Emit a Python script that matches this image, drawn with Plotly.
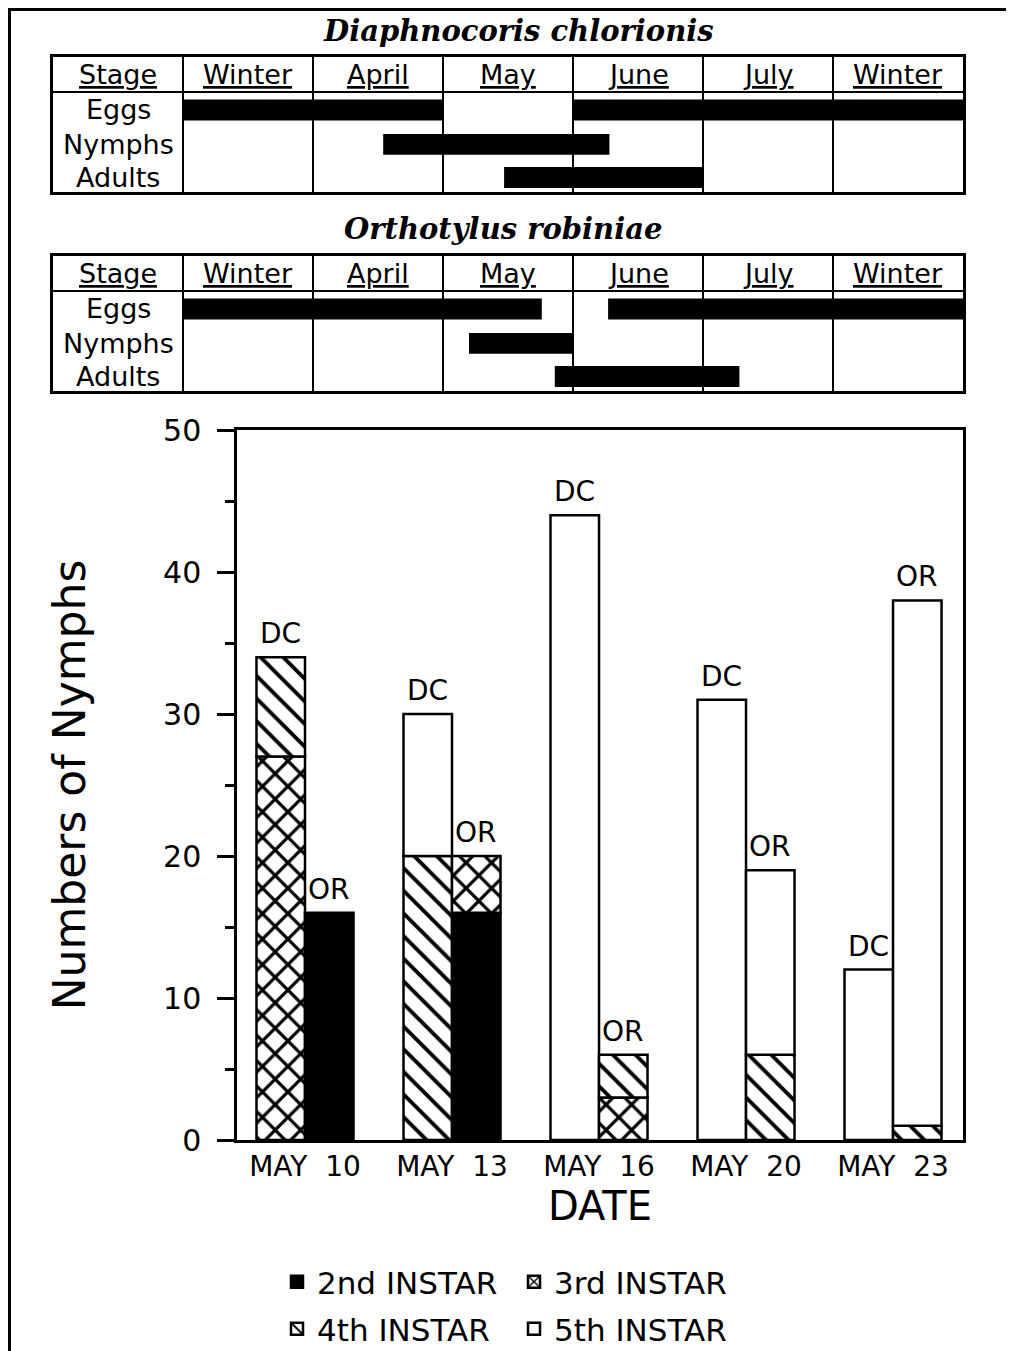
import numpy as np
import plotly.graph_objects as go

# ---------------- data ----------------
dates = ["MAY 10", "MAY 13", "MAY 16", "MAY 20", "MAY 23"]
instars = ["2nd INSTAR", "3rd INSTAR", "4th INSTAR", "5th INSTAR"]

# Diaphnocoris chlorionis (DC) nymph counts per instar
dc_2nd = [0, 0, 0, 0, 0]
dc_3rd = [27, 0, 0, 0, 0]
dc_4th = [7, 20, 0, 0, 0]
dc_5th = [0, 10, 44, 31, 12]

# Orthotylus robiniae (OR) nymph counts per instar
or_2nd = [16, 16, 0, 0, 0]
or_3rd = [0, 4, 3, 0, 0]
or_4th = [0, 0, 3, 6, 1]
or_5th = [0, 0, 0, 13, 37]

species_labels = ["DC", "OR"]

# phenology tables (periods in month-column units: 0=Winter start ... 6=Winter end)
table_columns = ["Winter", "April", "May", "June", "July", "Winter"]
stages = ["Eggs", "Nymphs", "Adults"]
dc_title = "Diaphnocoris chlorionis"
or_title = "Orthotylus robiniae"
dc_periods = {
    "Eggs": [(0.0, 2.0), (3.0, 6.0)],
    "Nymphs": [(1.54, 3.28)],
    "Adults": [(2.47, 4.0)],
}
or_periods = {
    "Eggs": [(0.0, 2.76), (3.27, 6.0)],
    "Nymphs": [(2.2, 3.0)],
    "Adults": [(2.86, 4.28)],
}

# ---------------- styling ----------------
W, H = 1014, 1351
OFF = 8  # page body margin: figure origin sits at (8, 8) on the page
FONT = "DejaVu Sans"
BLACK = "black"

def px_x(p):
    return (p - OFF) / W

def px_y(p):
    return 1 - (p - OFF) / H

patterns = [
    dict(color=BLACK, pattern=dict(shape="")),
    dict(color="white", pattern=dict(shape="x", fgcolor=BLACK, fgopacity=1, bgcolor="white", size=18, solidity=0.33)),
    dict(color="white", pattern=dict(shape="\\", fgcolor=BLACK, fgopacity=1, bgcolor="white", size=16, solidity=0.24)),
    dict(color="white", pattern=dict(shape="")),
]

fig = go.Figure()

dc_data = np.array([dc_2nd, dc_3rd, dc_4th, dc_5th], dtype=float)
or_data = np.array([or_2nd, or_3rd, or_4th, or_5th], dtype=float)
xpos = np.arange(len(dates), dtype=float)
bw = 0.33
offsets = [-bw / 2, bw / 2]

for si, data in enumerate([dc_data, or_data]):
    bases = np.vstack([np.zeros(len(dates)), np.cumsum(data, axis=0)[:-1]])
    for k in range(len(instars)):
        vals = [v if v > 0 else None for v in data[k]]
        m = patterns[k]
        fig.add_trace(go.Bar(
            x=xpos + offsets[si], y=vals, base=bases[k], width=bw,
            name=instars[k], legendgroup=instars[k],
            showlegend=(si == 0),
            legend="legend" if k < 2 else "legend2",
            marker=dict(color=m["color"], pattern=m["pattern"],
                        line=dict(color=BLACK, width=2.5)),
            xaxis="x", yaxis="y",
        ))

# DC / OR labels above bars
annotations = []
for si, data in enumerate([dc_data, or_data]):
    totals = data.sum(axis=0)
    for i in range(len(dates)):
        annotations.append(dict(
            x=xpos[i] + offsets[si], y=totals[i], xref="x", yref="y",
            text=species_labels[si], showarrow=False, yanchor="bottom", yshift=5,
            font=dict(family=FONT, size=28, color=BLACK)))

# phenology tables
row_y = {"Eggs": 2.43, "Nymphs": 1.41, "Adults": 0.43}
for ti, (periods, ax) in enumerate([(dc_periods, "2"), (or_periods, "3")]):
    for st in stages:
        segs = periods[st]
        fig.add_trace(go.Bar(
            orientation="h",
            x=[b - a for a, b in segs], base=[a for a, b in segs],
            y=[row_y[st]] * len(segs), width=0.62,
            marker=dict(color=BLACK, line=dict(width=0)),
            showlegend=False, xaxis="x" + ax, yaxis="y" + ax,
        ))
    annotations.append(dict(x=-0.5, y=3.48, xref="x" + ax, yref="y" + ax,
                            text="<u>Stage</u>", showarrow=False,
                            font=dict(family=FONT, size=27, color=BLACK)))
    for ci, c in enumerate(table_columns):
        annotations.append(dict(x=ci + 0.5, y=3.48, xref="x" + ax, yref="y" + ax,
                                text="<u>" + c + "</u>", showarrow=False,
                                font=dict(family=FONT, size=27, color=BLACK)))
    for st in stages:
        annotations.append(dict(x=-0.5, y=row_y[st], xref="x" + ax, yref="y" + ax,
                                text=st, showarrow=False,
                                font=dict(family=FONT, size=27, color=BLACK)))

annotations.append(dict(x=px_x(518), y=px_y(31), xref="paper", yref="paper",
                        xanchor="center", yanchor="middle",
                        text="<b><i>" + dc_title + "</i></b>", showarrow=False,
                        font=dict(family="DejaVu Serif", size=29, color=BLACK)))
annotations.append(dict(x=px_x(503), y=px_y(229), xref="paper", yref="paper",
                        xanchor="center", yanchor="middle",
                        text="<b><i>" + or_title + "</i></b>", showarrow=False,
                        font=dict(family="DejaVu Serif", size=29, color=BLACK)))

table_axis_common_x = dict(range=[-1, 6], tickvals=[0, 1, 2, 3, 4, 5], showgrid=True,
                           gridcolor=BLACK, gridwidth=2, showticklabels=False, ticks="",
                           showline=True, mirror=True, linecolor=BLACK, linewidth=2.5,
                           zeroline=False, fixedrange=True, automargin=False)
table_axis_common_y = dict(range=[0, 4], tickvals=[2.96], showgrid=True,
                           gridcolor=BLACK, gridwidth=2, showticklabels=False, ticks="",
                           showline=True, mirror=True, linecolor=BLACK, linewidth=2.5,
                           zeroline=False, fixedrange=True, automargin=False)

legend_common = dict(orientation="h", x=px_x(277), xanchor="left", yanchor="top",
                     font=dict(size=31, family=FONT, color=BLACK), entrywidth=192,
                     bgcolor="rgba(0,0,0,0)", traceorder="normal")

fig.update_layout(
    width=W, height=H,
    autosize=False,
    margin=dict(l=0, r=0, t=0, b=0, pad=0, autoexpand=False),
    paper_bgcolor="white", plot_bgcolor="white",
    barmode="overlay",
    font=dict(family=FONT, color=BLACK),
    xaxis=dict(domain=[px_x(237), px_x(963)], range=[-0.4626, 4.476],
               tickvals=list(xpos), ticktext=[d.replace(" ", "\u00a0\u00a0") for d in dates],
               ticks="", showgrid=False, zeroline=False, automargin=False,
               showline=True, mirror=True, linecolor=BLACK, linewidth=2.5,
               tickfont=dict(size=28, family=FONT, color=BLACK),
               title=dict(text="DATE", font=dict(size=40, family=FONT, color=BLACK), standoff=8)),
    yaxis=dict(domain=[px_y(1140), px_y(430)], range=[0, 50], dtick=10,
               ticks="outside", ticklen=17, tickwidth=2.5, tickcolor=BLACK,
               minor=dict(dtick=5, ticks="outside", ticklen=9, tickwidth=2.5, tickcolor=BLACK),
               showgrid=False, zeroline=False, automargin=False,
               showline=True, mirror=True, linecolor=BLACK, linewidth=2.5,
               ticklabelstandoff=10,
               tickfont=dict(size=30, family=FONT, color=BLACK),
               title=dict(text="Numbers of Nymphs", font=dict(size=44, family=FONT, color=BLACK), standoff=64)),
    xaxis2=dict(domain=[px_x(53), px_x(963)], anchor="y2", **table_axis_common_x),
    yaxis2=dict(domain=[px_y(192), px_y(57)], anchor="x2", **table_axis_common_y),
    xaxis3=dict(domain=[px_x(53), px_x(963)], anchor="y3", **table_axis_common_x),
    yaxis3=dict(domain=[px_y(391), px_y(256)], anchor="x3", **table_axis_common_y),
    legend=dict(y=px_y(1255), **legend_common),
    legend2=dict(y=px_y(1302), **legend_common),
    annotations=annotations,
    shapes=[dict(type="rect", xref="paper", yref="paper",
                 x0=px_x(9.5), x1=px_x(1011), y0=-0.02, y1=px_y(9.5),
                 line=dict(color=BLACK, width=3), fillcolor="rgba(0,0,0,0)")],
)

fig.write_html("out.html")
